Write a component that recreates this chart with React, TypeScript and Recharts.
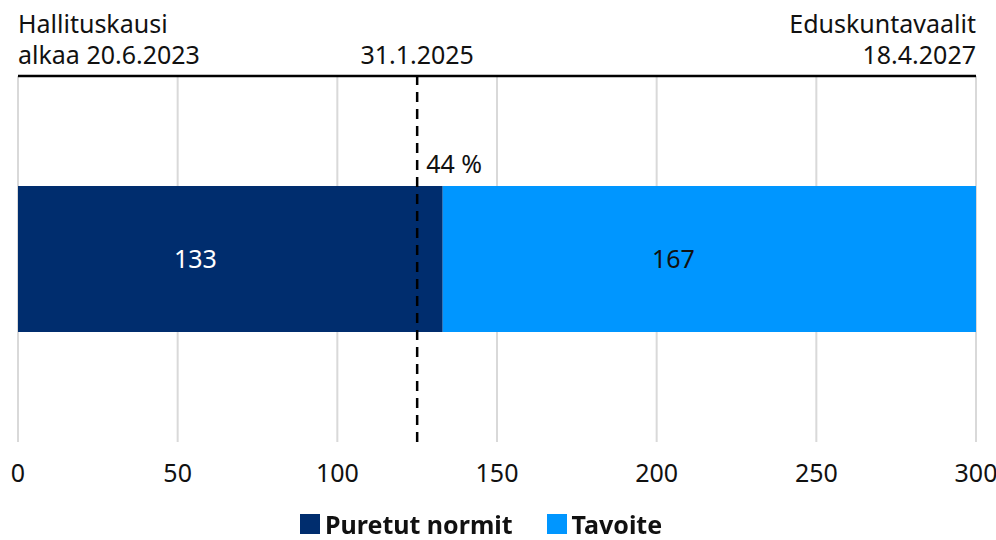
import { BarChart, Bar, XAxis, YAxis, CartesianGrid, ReferenceLine, LabelList } from "recharts";

const categories = ["Normit"];
const puretut = [133];
const tavoite = [167];
const xTicks = [0, 50, 100, 150, 200, 250, 300];
const startValue = 0;
const todayValue = 125;
const endValue = 300;
const startLabel = ["Hallituskausi", "alkaa 20.6.2023"];
const todayLabel = ["31.1.2025"];
const endLabel = ["Eduskuntavaalit", "18.4.2027"];

const DARK = "#002D6E";
const LIGHT = "#0096FF";
const FONT = "'Noto Sans', sans-serif";

const data = categories.map((name, i) => ({ name, puretut: puretut[i], tavoite: tavoite[i] }));
const total = puretut[0] + tavoite[0];
const share = Math.round((puretut[0] / total) * 100);

function TopLabel(props: any) {
  const { viewBox, lines, anchor } = props;
  const x = viewBox.x;
  const base = viewBox.y - 12 - (lines.length - 1) * 31;
  return (
    <text x={x} y={base} textAnchor={anchor} fontSize={25} fill="#111" fontFamily={FONT}>
      {lines.map((l: string, i: number) => (
        <tspan key={i} x={x} y={base + i * 31}>
          {l}
        </tspan>
      ))}
    </text>
  );
}

function TodayLabel(props: any) {
  const { viewBox } = props;
  return (
    <g>
      <TopLabel viewBox={viewBox} lines={todayLabel} anchor="middle" />
      <text x={viewBox.x + 9} y={viewBox.y + 97} fontSize={25} fill="#111" fontFamily={FONT}>
        {share} %
      </text>
    </g>
  );
}

export default function App() {
  return (
    <div style={{ position: "fixed", left: 0, top: 0, width: 996, height: 540, background: "#fff", fontFamily: FONT }}>
      <BarChart
        width={996}
        height={540}
        data={data}
        layout="vertical"
        barCategoryGap={0}
        margin={{ top: 64, right: 20, bottom: 68, left: 18 }}
      >
        <CartesianGrid horizontal={false} stroke="#d9d9d9" strokeWidth={2} />
        <XAxis
          type="number"
          domain={[0, 300]}
          ticks={xTicks}
          tickLine={false}
          axisLine={false}
          tick={{ fontSize: 25, fill: "#111", fontFamily: FONT, dy: 14 }}
          interval={0}
          height={30}
        />
        <XAxis
          xAxisId="top"
          type="number"
          orientation="top"
          domain={[0, 300]}
          tickLine={false}
          axisLine={{ stroke: "#000", strokeWidth: 2.5 }}
          tick={false}
          height={12}
        />
        <YAxis type="category" dataKey="name" hide />
        <Bar dataKey="puretut" stackId="a" fill={DARK} barSize={146} isAnimationActive={false}>
          <LabelList dataKey="puretut" position="center" fill="#fff" fontSize={25} fontFamily={FONT} dx={-35} />
        </Bar>
        <Bar dataKey="tavoite" stackId="a" fill={LIGHT} barSize={146} isAnimationActive={false}>
          <LabelList dataKey="tavoite" position="center" fill="#111" fontSize={25} fontFamily={FONT} dx={-36} />
        </Bar>
        <ReferenceLine
          x={startValue}
          strokeOpacity={0}
          label={<TopLabel lines={startLabel} anchor="start" />}
        />
        <ReferenceLine
          x={endValue}
          strokeOpacity={0}
          label={<TopLabel lines={endLabel} anchor="end" />}
        />
        <ReferenceLine
          x={todayValue}
          stroke="#000"
          strokeWidth={2.5}
          strokeDasharray="10 7"
          label={<TodayLabel />}
        />
      </BarChart>
      <div
        style={{
          position: "absolute",
          top: 511,
          left: 300,
          display: "flex",
          gap: 34,
          fontWeight: 700,
          fontSize: 25,
          lineHeight: "26px",
          color: "#111",
        }}
      >
        {[
          { label: "Puretut normit", color: DARK },
          { label: "Tavoite", color: LIGHT },
        ].map((it) => (
          <div key={it.label} style={{ display: "flex", alignItems: "center", gap: 5, height: 26 }}>
            <span style={{ display: "inline-block", width: 20, height: 20, background: it.color }} />
            <span>{it.label}</span>
          </div>
        ))}
      </div>
    </div>
  );
}
